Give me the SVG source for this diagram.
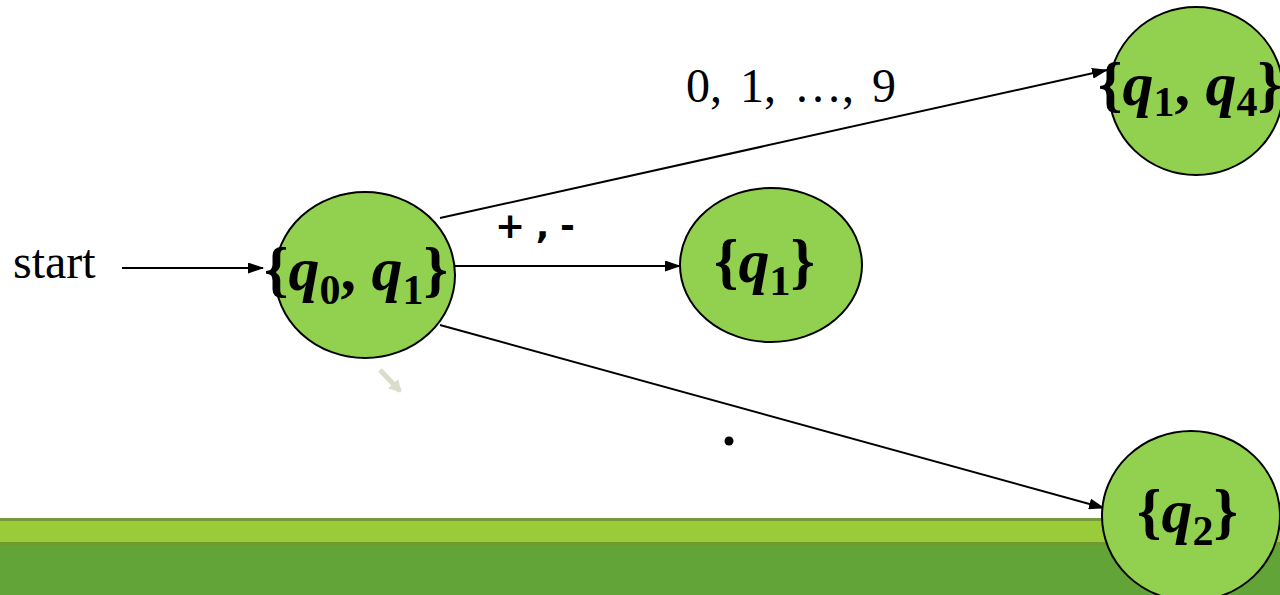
<svg xmlns="http://www.w3.org/2000/svg" width="1280" height="595" viewBox="0 0 1280 595">
<style>
.node{fill:#92d050;stroke:#000;stroke-width:2}
.edge{stroke:#000;stroke-width:2;fill:none;marker-end:url(#ah)}
.lbl{font-family:"Liberation Serif",serif;font-weight:bold;font-size:62px;fill:#000}
.q{font-style:italic}
.sub{font-size:42px;font-style:normal}
.serif{font-family:"Liberation Serif",serif;fill:#000}
</style>
<defs>
<marker id="ah" markerWidth="16" markerHeight="11" refX="15" refY="5.5" orient="auto" markerUnits="userSpaceOnUse">
<path d="M0,0 L16,5.5 L0,11 z" fill="#000"/>
</marker>
<marker id="ah2" markerWidth="14" markerHeight="14" refX="10" refY="7" orient="auto" markerUnits="userSpaceOnUse">
<path d="M0,0 L12,7 L0,14 z" fill="#dcdccc"/>
</marker>
</defs>
<rect width="1280" height="595" fill="#fff"/>
<g id="band">
<rect x="0" y="518" width="1280" height="77" fill="#62a437"/>
<rect x="0" y="518" width="1280" height="3" fill="#76993a"/>
<rect x="0" y="521" width="1280" height="21" fill="#99cc38"/>
<rect x="0" y="542" width="1280" height="3" fill="#6f9a2f"/>
</g>
<g id="connectors">
<line class="edge" x1="122" y1="268" x2="263" y2="268"/>
<line class="edge" x1="455" y1="266" x2="680" y2="266"/>
<line class="edge" x1="440" y1="218" x2="1107" y2="70"/>
<line class="edge" x1="440" y1="325" x2="1104" y2="508"/>
<line x1="380" y1="370" x2="400" y2="391" stroke="#dcdccc" stroke-width="5" marker-end="url(#ah2)"/>
</g>
<text class="serif" x="13" y="278" font-size="48">start</text>
<text class="serif" x="686" y="102" font-size="48" word-spacing="6">0, 1, …, 9</text>
<text x="495" y="238" font-family="DejaVu Sans,sans-serif" font-weight="bold" font-size="36" word-spacing="-2" fill="#000">+ , -</text>
<circle cx="729" cy="441" r="4.5" fill="#000"/>
<g id="n_q0q1">
<ellipse class="node" cx="365" cy="275" rx="90" ry="83"/>
<text class="lbl" x="264" y="290">{<tspan class="q">q</tspan><tspan class="sub" dy="14">0</tspan><tspan dy="-14">, </tspan><tspan class="q">q</tspan><tspan class="sub" dy="14">1</tspan><tspan dy="-14">}</tspan></text>
</g>
<g id="n_q1">
<ellipse class="node" cx="771" cy="265" rx="91" ry="77"/>
<text class="lbl" x="714" y="282">{<tspan class="q">q</tspan><tspan class="sub" dy="13">1</tspan><tspan dy="-13">}</tspan></text>
</g>
<g id="n_q1q4">
<ellipse class="node" cx="1196" cy="91" rx="87" ry="84"/>
<text class="lbl" x="1098" y="105" font-size="52">{<tspan class="q">q</tspan><tspan class="sub" dy="11" font-size="36">1</tspan><tspan dy="-11">, </tspan><tspan class="q">q</tspan><tspan class="sub" dy="11" font-size="36">4</tspan><tspan dy="-11">}</tspan></text>
</g>
<g id="n_q2">
<ellipse class="node" cx="1191" cy="516" rx="89" ry="85"/>
<text class="lbl" x="1137" y="532">{<tspan class="q">q</tspan><tspan class="sub" dy="13">2</tspan><tspan dy="-13">}</tspan></text>
</g>
</svg>
